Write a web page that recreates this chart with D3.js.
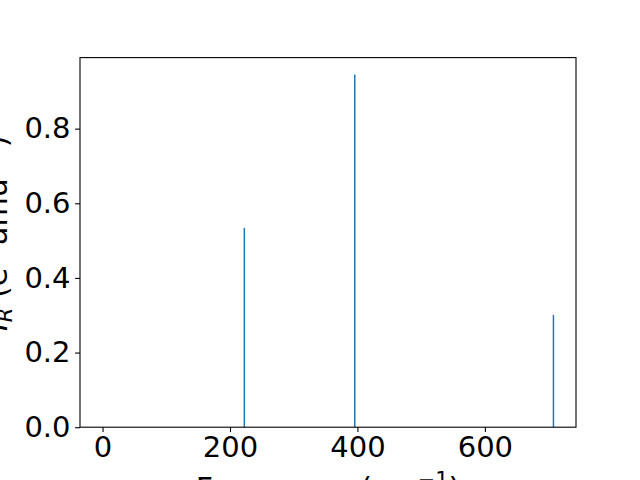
<!DOCTYPE html>
<html>
<head>
<meta charset="utf-8">
<script src="https://cdn.jsdelivr.net/npm/d3@7"></script>
<style>
html,body{margin:0;padding:0;background:#fff;overflow:hidden;}
svg{display:block;}
text{font-family:"DejaVu Sans",sans-serif;}
</style>
</head>
<body>
<svg id="chart" width="640" height="480"></svg>
<script>
// Data
const frequencies = [0, 222.5, 395.8, 707.6];
const intensities = [0, 0.534, 0.945, 0.301];
const xTicks = [0, 200, 400, 600];
const yTicks = [0.0, 0.2, 0.4, 0.6, 0.8];

const W = 640, H = 480;
const m = {left: 80, right: 576, top: 57.6, bottom: 427.2};
const svg = d3.select("#chart");
svg.append("rect").attr("width", W).attr("height", H).attr("fill", "#fff");

const xmin = d3.min(frequencies), xmax = d3.max(frequencies);
const xr = xmax - xmin;
const x = d3.scaleLinear().domain([xmin - 0.05 * xr, xmax + 0.05 * xr]).range([m.left, m.right]);
const ymax = d3.max(intensities);
const y = d3.scaleLinear().domain([0, ymax * 1.048]).range([m.bottom, m.top]);

const fs = 29;
const lfs = 30;
const sfs = lfs * 0.7;
const tickLen = 4.9, pad = 4.6;

// Lines
svg.append("g").selectAll("line").data(frequencies.map((f, i) => [f, intensities[i]]))
  .join("line")
  .attr("x1", d => x(d[0])).attr("x2", d => x(d[0]))
  .attr("y1", y(0)).attr("y2", d => y(d[1]))
  .attr("stroke", "#1f77b4").attr("stroke-width", 1.5);

// Axes
const xAxis = d3.axisBottom(x).tickValues(xTicks).tickFormat(d3.format("d")).tickSize(tickLen).tickPadding(pad);
const gx = svg.append("g").attr("transform", `translate(0,${m.bottom})`).call(xAxis);
const yAxis = d3.axisLeft(y).tickValues(yTicks).tickFormat(d3.format(".1f")).tickSize(tickLen).tickPadding(pad);
const gy = svg.append("g").attr("transform", `translate(${m.left},0)`).call(yAxis);
[gx, gy].forEach(g => {
  g.select(".domain").remove();
  g.selectAll(".tick line").attr("stroke", "#000").attr("stroke-width", 1.1);
  g.selectAll(".tick text").attr("fill", "#000").style("font-size", fs + "px").style("font-family", "DejaVu Sans");
});

// Frame
svg.append("rect").attr("x", m.left).attr("y", m.top)
  .attr("width", m.right - m.left).attr("height", m.bottom - m.top)
  .attr("fill", "none").attr("stroke", "#000").attr("stroke-width", 1.1);

// X label
const xl = svg.append("text").attr("x", (m.left + m.right) / 2).attr("y", 499)
  .attr("text-anchor", "middle").style("font-size", lfs + "px").attr("fill", "#000");
xl.append("tspan").text("Frequency (cm");
xl.append("tspan").attr("dy", -12).style("font-size", sfs + "px").text("\u22121");
xl.append("tspan").attr("dy", 12).text(")");

// Y label
const yl = svg.append("text")
  .attr("transform", `translate(7,331) rotate(-90)`)
  .attr("text-anchor", "start").style("font-size", lfs + "px").attr("fill", "#000");
yl.append("tspan").style("font-style", "italic").text("I");
yl.append("tspan").attr("dy", 5).style("font-size", sfs + "px").style("font-style", "italic").text("R");
yl.append("tspan").attr("dy", -5).text(" (e");
yl.append("tspan").attr("dy", -12).style("font-size", sfs + "px").text("2");
yl.append("tspan").attr("dy", 12).text(" amu");
yl.append("tspan").attr("dy", -12).style("font-size", sfs + "px").text("\u22121");
yl.append("tspan").attr("dy", 12).text(")");
</script>
</body>
</html>
